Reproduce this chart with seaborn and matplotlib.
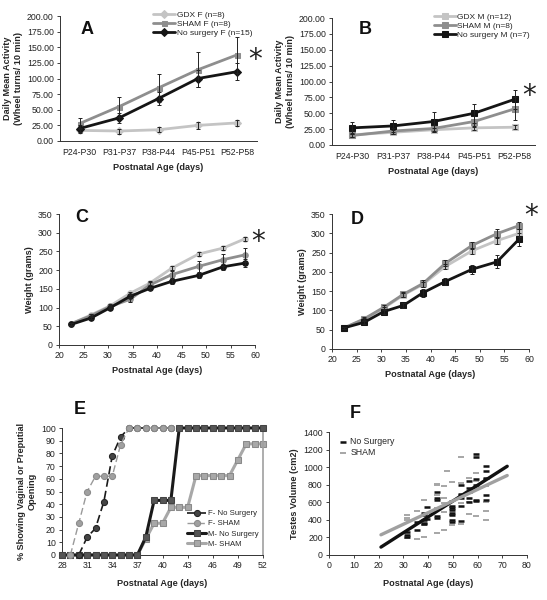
import numpy as np
import matplotlib
matplotlib.use("Agg")
import matplotlib.pyplot as plt
import seaborn as sns
from matplotlib.ticker import FormatStrFormatter, MultipleLocator

sns.set_style("ticks")
plt.rcParams['font.family'] = ['Liberation Sans', 'DejaVu Sans']

# colours
LIGHT = "#c4c4c4"
MID = "#8e8e8e"
DARK = "#151515"

# ---- panel A / B : wheel running activity ----
age_bins = ["P24-P30", "P31-P37", "P38-P44", "P45-P51", "P52-P58"]
gdx_f = [17, 16, 18, 25, 29]
gdx_f_err = [4, 4, 4, 5, 5]
sham_f = [28, 55, 85, 114, 138]
sham_f_err = [9, 16, 23, 28, 29]
nosurg_f = [20, 37, 68, 100, 111]
nosurg_f_err = [6, 8, 10, 13, 14]

gdx_m = [16, 20, 24, 27, 28]
gdx_m_err = [3, 3, 3, 3, 3]
sham_m = [15, 22, 26, 37, 57]
sham_m_err = [3, 4, 5, 8, 18]
nosurg_m = [27, 30, 37, 50, 72]
nosurg_m_err = [10, 9, 15, 15, 15]

# ---- panel C / D : body weight ----
weight_days = [22.5, 26.5, 30.5, 34.5, 38.5, 43, 48.5, 53.5, 58]
w_gdx_f = [57, 80, 105, 138, 165, 205, 243, 259, 284]
w_gdx_f_err = [3, 3, 4, 4, 5, 5, 5, 5, 5]
w_sham_f = [57, 78, 103, 122, 160, 188, 210, 228, 241]
w_sham_f_err = [3, 4, 5, 6, 8, 10, 14, 16, 18]
w_nosurg_f = [55, 72, 100, 130, 151, 170, 186, 209, 219]
w_nosurg_f_err = [3, 3, 4, 5, 5, 6, 7, 8, 10]

w_gdx_m = [55, 76, 106, 140, 168, 214, 255, 281, 300]
w_gdx_m_err = [3, 4, 4, 5, 6, 7, 8, 9, 10]
w_sham_m = [55, 78, 108, 142, 170, 222, 269, 299, 320]
w_sham_m_err = [3, 4, 5, 6, 8, 8, 9, 11, 10]
w_nosurg_m = [55, 69, 97, 113, 146, 175, 207, 226, 285]
w_nosurg_m_err = [3, 4, 5, 6, 10, 10, 12, 17, 17]

# ---- panel E : puberty onset ----
e_days_fns = list(range(30, 42))
e_f_nosurg = [0, 14, 21, 42, 78, 93, 100, 100, 100, 100, 100, 100]
e_days_fsham = list(range(29, 42))
e_f_sham = [0, 25, 50, 62, 62, 62, 87, 100, 100, 100, 100, 100, 100]
e_days_m = list(range(28, 53))
e_m_nosurg = [0, 0, 0, 0, 0, 0, 0, 0, 0, 0, 14, 43, 43, 43,
              100, 100, 100, 100, 100, 100, 100, 100, 100, 100, 100]
e_m_sham = [0, 0, 0, 0, 0, 0, 0, 0, 0, 0, 12.5, 25, 25, 37.5, 37.5, 37.5,
            62.5, 62.5, 62.5, 62.5, 62.5, 75, 87.5, 87.5, 87.5]
e_ticks = [28, 31, 34, 37, 40, 43, 46, 49, 52]

# ---- panel F : testes volume ----
f_ns_age = [31.5, 31.5, 31.5, 35.5, 35.5, 38.5, 38.5, 38.5, 38.5, 38.5, 39.5, 39.5,
            43.5, 43.5, 43.5, 43.5, 43.5, 49.5, 49.5, 49.5, 49.5, 49.5, 49.5, 49.5,
            53.5, 53.5, 53.5, 53.5, 53.5, 56.5, 56.5, 56.5, 56.5, 56.5,
            59.5, 59.5, 59.5, 59.5, 59.5, 59.5, 63.5, 63.5, 63.5, 63.5, 63.5]
f_ns_vol = [260, 230, 200, 370, 280, 480, 450, 400, 360, 350, 550, 410,
            720, 650, 630, 440, 420, 560, 530, 510, 480, 460, 400, 380,
            800, 700, 650, 560, 390, 840, 760, 720, 650, 600,
            1150, 1120, 870, 800, 630, 610, 1010, 960, 880, 680, 630]
f_sh_age = [31.5, 31.5, 31.5, 31.5, 35.5, 35.5, 38.5, 38.5, 38.5, 38.5, 40.5,
            43.5, 43.5, 43.5, 43.5, 43.5, 43.5, 46.5, 46.5, 46.5, 46.5, 46.5, 47.5,
            49.5, 49.5, 49.5, 49.5, 49.5, 53.5, 53.5, 53.5, 53.5, 53.5,
            56.5, 56.5, 56.5, 59.5, 59.5, 59.5, 59.5, 63.5, 63.5, 63.5, 63.5, 63.5]
f_sh_vol = [460, 420, 400, 190, 500, 180, 630, 460, 340, 210, 480,
            810, 800, 680, 540, 520, 250, 780, 650, 590, 490, 280, 960,
            830, 620, 550, 450, 340, 1120, 820, 680, 590, 350,
            880, 600, 470, 930, 840, 760, 440, 860, 780, 600, 500, 400]
fit_age = [21, 72]
fit_ns = [90, 1010]
fit_sh = [230, 905]

W, H = 547, 600
fig = plt.figure(figsize=(W / 100, H / 100), dpi=100)


def axes_px(left, top, right, bottom):
    return fig.add_axes([left / W, 1 - bottom / H, (right - left) / W, (bottom - top) / H])


TICK = 6.3
LAB = 6.6


def style(ax):
    sns.despine(ax=ax)
    for s in ["left", "bottom"]:
        ax.spines[s].set_linewidth(0.7)
        ax.spines[s].set_color("#333333")
    ax.tick_params(labelsize=TICK, length=2.5, width=0.6, pad=2, colors="#222222")


def series(ax, x, y, err, color, marker, label, ms=4.2):
    sns.lineplot(x=x, y=y, ax=ax, color=color, marker=marker, markersize=ms,
                 linewidth=2.0, markeredgecolor=color, label=label, clip_on=False, zorder=3)
    ax.errorbar(x, y, yerr=err, fmt="none", ecolor="#222222", elinewidth=0.7,
                capsize=1.6, capthick=0.7, zorder=4)


# ---------- A ----------
axA = axes_px(60, 16, 257, 141)
xs = np.arange(len(age_bins))
series(axA, xs, gdx_f, gdx_f_err, LIGHT, "D", "GDX F (n=8)", 3.6)
series(axA, xs, sham_f, sham_f_err, MID, "s", "SHAM F (n=8)", 3.6)
series(axA, xs, nosurg_f, nosurg_f_err, DARK, "D", "No surgery F (n=15)", 3.6)
axA.set_ylim(0, 200)
axA.yaxis.set_major_locator(MultipleLocator(25))
axA.yaxis.set_major_formatter(FormatStrFormatter("%.2f"))
axA.set_ylabel("Daily Mean Activity\n(Wheel turns/ 10 min)", fontsize=LAB, fontweight="bold", labelpad=3)

# ---------- B ----------
axB = axes_px(332, 18, 535, 145)
series(axB, xs, gdx_m, gdx_m_err, LIGHT, "s", "GDX M (n=12)", 3.8)
series(axB, xs, sham_m, sham_m_err, MID, "s", "SHAM M (n=8)", 3.8)
series(axB, xs, nosurg_m, nosurg_m_err, DARK, "s", "No surgery M (n=7)", 3.8)
axB.set_ylim(0, 200)
axB.yaxis.set_major_locator(MultipleLocator(25))
axB.yaxis.set_major_formatter(FormatStrFormatter("%.2f"))
axB.set_ylabel("Daily Mean Activity\n(Wheel turns/ 10 min)", fontsize=LAB, fontweight="bold", labelpad=3)

for ax in (axA, axB):
    ax.set_xlim(-0.5, len(age_bins) - 0.5)
    ax.set_xticks(xs)
    ax.set_xticklabels(age_bins)
    ax.set_xlabel("Postnatal Age (days)", fontsize=LAB, fontweight="bold", labelpad=4)
    style(ax)
    ax.tick_params(axis="x", length=0, pad=5)
    ax.legend(loc="upper right", bbox_to_anchor=(1.0, 1.08), fontsize=6.0, frameon=False,
              handlelength=2.6, handletextpad=0.2, labelspacing=0.15, borderpad=0.1)

# ---------- C / D ----------
axC = axes_px(59, 214, 255, 345)
series(axC, weight_days, w_gdx_f, w_gdx_f_err, LIGHT, "o", None, 4)
series(axC, weight_days, w_sham_f, w_sham_f_err, MID, "o", None, 4)
series(axC, weight_days, w_nosurg_f, w_nosurg_f_err, DARK, "o", None, 4)

axD = axes_px(332, 214, 529, 349)
series(axD, weight_days, w_gdx_m, w_gdx_m_err, LIGHT, "s", None, 4)
series(axD, weight_days, w_sham_m, w_sham_m_err, MID, "s", None, 4)
series(axD, weight_days, w_nosurg_m, w_nosurg_m_err, DARK, "s", None, 4)

for ax in (axC, axD):
    ax.set_xlim(20, 60)
    ax.set_ylim(0, 350)
    ax.xaxis.set_major_locator(MultipleLocator(5))
    ax.yaxis.set_major_locator(MultipleLocator(50))
    ax.set_ylabel("Weight (grams)", fontsize=LAB, fontweight="bold", labelpad=3)
    ax.set_xlabel("Postnatal Age (days)", fontsize=LAB, fontweight="bold", labelpad=4)
    style(ax)
    if ax.get_legend():
        ax.get_legend().remove()

# ---------- E ----------
axE = axes_px(62, 428, 263, 555)
sns.lineplot(x=e_days_m, y=e_m_sham, ax=axE, color="#a8a8a8", marker="s", markersize=4.2,
             markeredgecolor="#8a8a8a", linewidth=2.2, label="M- SHAM", clip_on=False, zorder=2)
sns.lineplot(x=e_days_m, y=e_m_nosurg, ax=axE, color="#1a1a1a", marker="s", markersize=4.2,
             markeredgecolor="#444444", markerfacecolor="#555555", linewidth=2.2,
             label="M- No Surgery", clip_on=False, zorder=3)
sns.lineplot(x=e_days_fns, y=e_f_nosurg, ax=axE, color="#1a1a1a", marker="o", markersize=4.4,
             markerfacecolor="#444444", markeredgecolor="#222222", linewidth=1.2,
             linestyle=(0, (5, 2.5)), label="F- No Surgery", clip_on=False, zorder=4)
sns.lineplot(x=e_days_fsham, y=e_f_sham, ax=axE, color="#9a9a9a", marker="o", markersize=4.4,
             markerfacecolor="#a0a0a0", markeredgecolor="#8a8a8a", linewidth=1.0,
             linestyle=(0, (5, 2.5)), label="F- SHAM", clip_on=False, zorder=5)
axE.set_xlim(28, 52)
axE.set_ylim(0, 100)
axE.set_xticks(e_ticks)
axE.yaxis.set_major_locator(MultipleLocator(10))
axE.set_ylabel("% Showing Vaginal or Preputial\nOpening", fontsize=LAB, fontweight="bold", labelpad=3)
axE.set_xlabel("Postnatal Age (days)", fontsize=LAB, fontweight="bold", labelpad=6)
style(axE)
axE.spines["right"].set_visible(True)
axE.spines["right"].set_color("#a0a0a0")
axE.spines["right"].set_linewidth(1.2)
h, l = axE.get_legend_handles_labels()
order = [l.index(k) for k in ["F- No Surgery", "F- SHAM", "M- No Surgery", "M- SHAM"]]
axE.legend([h[i] for i in order], [l[i] for i in order], loc="lower right",
           bbox_to_anchor=(1.0, 0.02), fontsize=5.6, frameon=False, handlelength=2.4,
           handletextpad=0.2, labelspacing=0.35, borderpad=0.1)

# ---------- F ----------
axF = axes_px(329, 432, 527, 555)
sns.scatterplot(x=f_sh_age, y=f_sh_vol, ax=axF, color="#a6a6a6", marker="_", s=14,
                linewidth=1.4, label="SHAM", zorder=2)
sns.scatterplot(x=f_ns_age, y=f_ns_vol, ax=axF, color="#111111", marker="_", s=14,
                linewidth=1.8, label="No Surgery", zorder=3)
sns.lineplot(x=fit_age, y=fit_ns, ax=axF, color="#111111", linewidth=2.4, zorder=4)
sns.lineplot(x=fit_age, y=fit_sh, ax=axF, color="#a0a0a0", linewidth=2.4, zorder=5)
axF.set_xlim(0, 80)
axF.set_ylim(0, 1400)
axF.xaxis.set_major_locator(MultipleLocator(10))
axF.yaxis.set_major_locator(MultipleLocator(200))
axF.set_ylabel("Testes Volume (cm2)", fontsize=LAB, fontweight="bold", labelpad=3)
axF.set_xlabel("Postnatal Age (days)", fontsize=LAB, fontweight="bold", labelpad=6)
style(axF)
h, l = axF.get_legend_handles_labels()
axF.legend([h[1], h[0]], [l[1], l[0]], loc="upper left", bbox_to_anchor=(0.02, 1.0),
           fontsize=6.3, frameon=False, handlelength=1.0, handletextpad=0.4,
           labelspacing=0.2, borderpad=0.1)

# ---------- panel letters and asterisks ----------
for letter, (px, py) in {"A": (87, 29), "B": (365, 29), "C": (82, 218), "D": (357, 220),
                         "E": (80, 410), "F": (355, 413)}.items():
    fig.text(px / W, 1 - py / H, letter, fontsize=13, fontweight="bold",
             ha="center", va="center", color="#111111")
for px, py in [(255, 60), (529, 96), (258, 242), (531, 216)]:
    fig.text(px / W, 1 - py / H, "*", fontsize=20, ha="center", va="center",
             color="#222222", family="DejaVu Sans")

fig.savefig("out.png", dpi=100)
